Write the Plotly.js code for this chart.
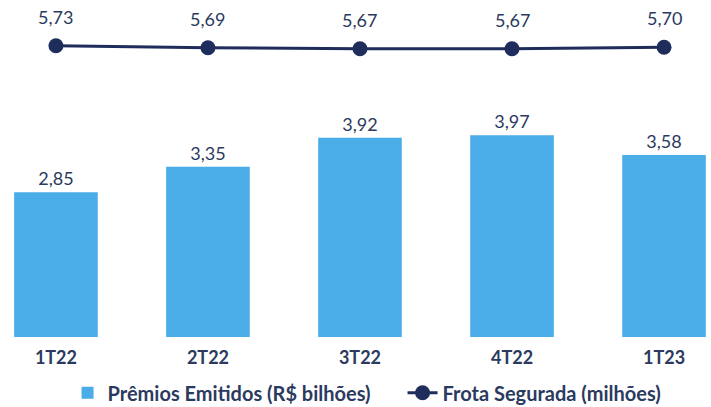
<!DOCTYPE html>
<html>
<head>
<meta charset="utf-8">
<script src="https://cdn.plot.ly/plotly-3.0.1.min.js"></script>
<style>html,body{margin:0;padding:0;background:#fff;}#chart{width:711px;height:407px;}</style>
</head>
<body>
<div id="chart"></div>
<script>
const categories = ["1T22", "2T22", "3T22", "4T22", "1T23"];
const premios = [2.85, 3.35, 3.92, 3.97, 3.58];
const frota = [5.73, 5.69, 5.67, 5.67, 5.70];
const fmt = v => v.toFixed(2).replace(".", ",");

const textColor = "#2B3A5E";
const lineColor = "#1E2D5C";
const traces = [
  {
    type: "bar", x: categories, y: premios, name: "Prêmios Emitidos (R$ bilhões)",
    marker: {color: "#4BADE8"},
    text: premios.map(fmt), textposition: "outside", cliponaxis: false,
    textfont: {family: "Lato, sans-serif", size: 18, color: textColor},
    hoverinfo: "none"
  },
  {
    type: "scatter", mode: "lines+markers", x: categories, y: frota,
    name: "Frota Segurada (milhões)",
    line: {color: lineColor, width: 3},
    marker: {color: lineColor, size: 15},
    cliponaxis: false,
    hoverinfo: "none"
  }
];
const annotations = categories.map((c, i) => ({
  x: c, y: frota[i], xref: "x", yref: "y", yshift: 29, showarrow: false,
  text: fmt(frota[i]),
  font: {family: "Lato, sans-serif", size: 18, color: textColor}
}));
const layout = {
  width: 711, height: 407,
  margin: {l: 0, r: 0, t: 0, b: 70, autoexpand: false},
  paper_bgcolor: "#fff", plot_bgcolor: "#fff",
  bargap: 0.45,
  showlegend: true,
  legend: {orientation: "h", x: 0.095, xanchor: "left", yref: "container", y: 0.035, yanchor: "middle",
           entrywidth: 290, entrywidthmode: "pixels",
           font: {family: "Lato, sans-serif", size: 20, color: textColor, weight: "bold"}},
  xaxis: {range: [-0.368, 4.309], showgrid: false, zeroline: false, showline: false,
          automargin: false, ticks: "", ticklabelstandoff: 8,
          tickfont: {family: "Lato, sans-serif", size: 18, color: textColor, weight: "bold"}},
  yaxis: {range: [0, 6.63], visible: false, showgrid: false, zeroline: false, automargin: false},
  annotations: annotations,
  font: {family: "Lato, sans-serif"}
};
Plotly.newPlot("chart", traces, layout, {displayModeBar: false, staticPlot: true});
</script>
</body>
</html>
